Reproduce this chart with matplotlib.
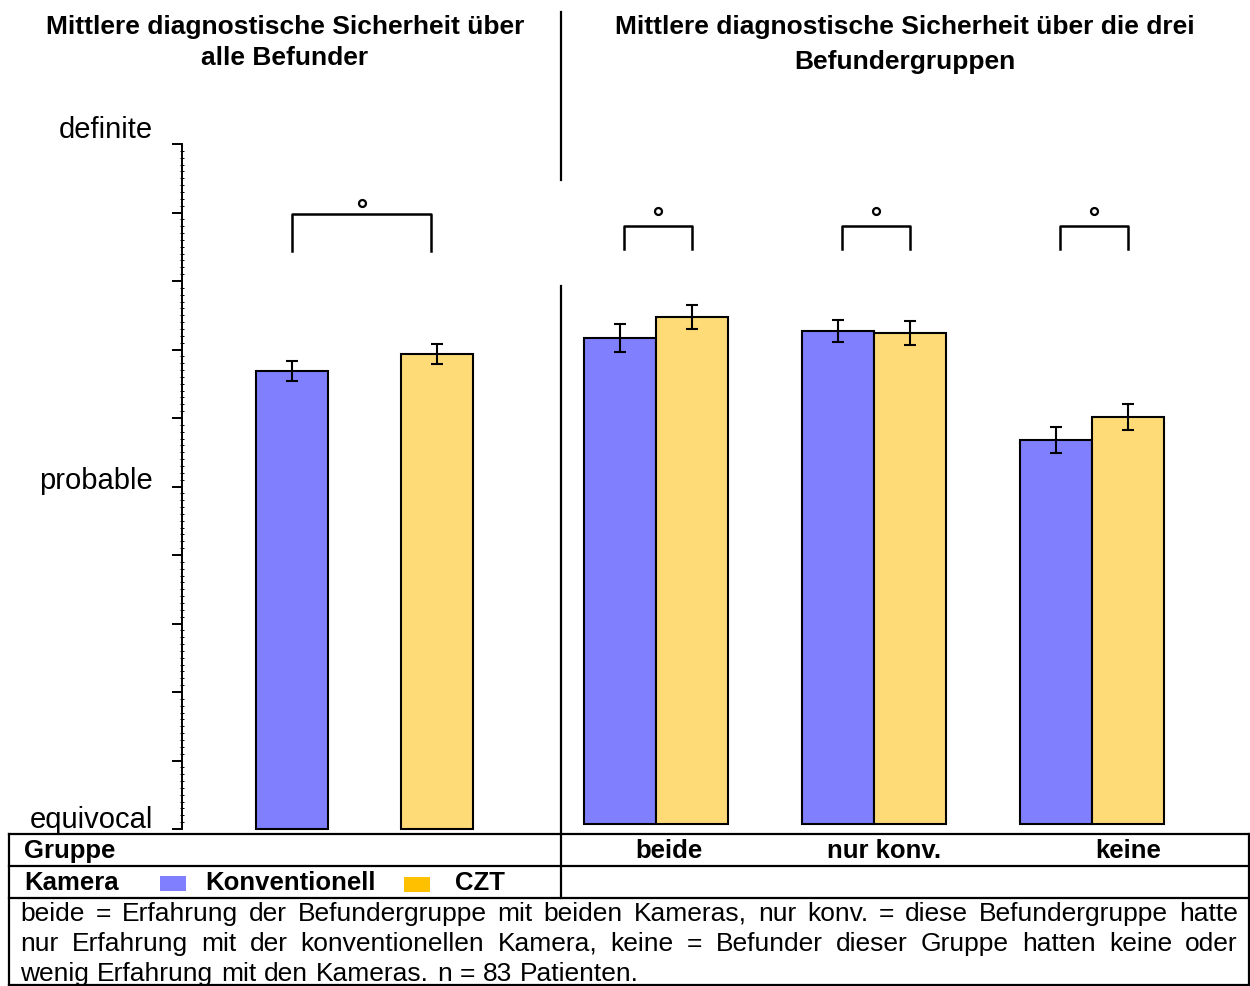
import numpy as np
import matplotlib
matplotlib.use("Agg")
import matplotlib.pyplot as plt
import matplotlib.transforms as mtransforms
from matplotlib.lines import Line2D
from matplotlib.patches import Rectangle

# scale: 1 = equivocal, 2 = probable, 3 = definite
scale_ticks = [1, 2, 3]
scale_labels = ["equivocal", "probable", "definite"]

cameras = ["Konventionell", "CZT"]
overall_means = [2.337, 2.387]
overall_err = [0.030, 0.028]

groups = ["beide", "nur konv.", "keine"]
konv_means = [2.419, 2.439, 2.121]
konv_err = [0.041, 0.032, 0.038]
czt_means = [2.480, 2.434, 2.188]
czt_err = [0.035, 0.035, 0.038]

footnote_lines = [
    "beide = Erfahrung der Befundergruppe mit beiden Kameras, nur konv. = diese Befundergruppe hatte",
    "nur Erfahrung mit der konventionellen Kamera, keine = Befunder dieser Gruppe hatten keine oder",
    "wenig Erfahrung mit den Kameras. n = 83 Patienten.",
]

blue = "#8080FF"
yellow = "#FFDB78"
legend_yellow = "#FFC000"

plt.rcParams["font.family"] = ["Liberation Sans", "DejaVu Sans"]

W, H = 1250, 987
fig = plt.figure(figsize=(W / 100, H / 100), dpi=100)


def fx(px):
    return px / W


def fy(py):
    return 1 - py / H


def hline(y, x0, x1, lw=1.6):
    fig.add_artist(Line2D([fx(x0), fx(x1)], [fy(y), fy(y)], color="black", lw=lw))


def vline(x, y0, y1, lw=1.6):
    fig.add_artist(Line2D([fx(x), fx(x)], [fy(y0), fy(y1)], color="black", lw=lw))


# ---- left panel: all readers ----
ax = fig.add_axes([fx(182), fy(830), fx(561) - fx(182), fy(145) - fy(830)])
pos = np.arange(len(cameras))
ax.bar(pos, np.array(overall_means) - 1, bottom=1, width=0.5,
       color=[blue, yellow], edgecolor="black", linewidth=1.5, clip_on=False)
ax.errorbar(pos, overall_means, yerr=overall_err, fmt="none", ecolor="black",
            elinewidth=1.5, capsize=4.5, capthick=1.5)
ax.set_xlim(-0.758, 1.855)
ax.set_ylim(1, 3)
ax.set_yticks(np.arange(1, 3.01, 0.2))
ax.set_yticks(np.arange(1, 3.001, 0.02), minor=True)
ax.set_yticklabels(["" for _ in np.arange(1, 3.01, 0.2)])
ax.tick_params(axis="y", which="major", direction="out", length=7, width=1.4)
ax.tick_params(axis="y", which="minor", direction="inout", length=3, width=0.7)
ax.set_xticks([])
for s in ["top", "right", "bottom"]:
    ax.spines[s].set_visible(False)
ax.spines["left"].set_linewidth(1.4)
label_shift = {"definite": 7, "probable": -1, "equivocal": 2}
for v, lab in zip(scale_ticks, scale_labels):
    tr = ax.get_yaxis_transform() + mtransforms.ScaledTranslation(
        0, label_shift[lab] / 100, fig.dpi_scale_trans)
    ax.text(-0.076, v, lab, transform=tr, ha="right", va="baseline", fontsize=21)

# significance bracket
b_top, b_low = 2.796, 2.688
ax.plot([pos[0], pos[0], pos[1] - 0.04, pos[1] - 0.04], [b_low, b_top, b_top, b_low],
        color="black", lw=1.8, clip_on=False)
ax.plot([(pos[0] + pos[1] - 0.04) / 2], [2.828], "o", ms=5, mfc="white",
        mec="black", mew=1.6, clip_on=False)

# ---- right panel: reader groups ----
ax2 = fig.add_axes([fx(561), fy(825), fx(1249) - fx(561), fy(140) - fy(825)])
gpos = np.arange(len(groups))
w = 0.33
ax2.bar(gpos - w / 2, np.array(konv_means) - 1, bottom=1, width=w, color=blue,
        edgecolor="black", linewidth=1.5, clip_on=False)
ax2.bar(gpos + w / 2, np.array(czt_means) - 1, bottom=1, width=w, color=yellow,
        edgecolor="black", linewidth=1.5, clip_on=False)
ax2.errorbar(gpos - w / 2, konv_means, yerr=konv_err, fmt="none", ecolor="black",
             elinewidth=1.5, capsize=4.5, capthick=1.5)
ax2.errorbar(gpos + w / 2, czt_means, yerr=czt_err, fmt="none", ecolor="black",
             elinewidth=1.5, capsize=4.5, capthick=1.5)
ax2.set_xlim(-0.436, 2.72)
ax2.set_ylim(1, 3)
ax2.axis("off")
for g in gpos:
    xl, xr = g - w / 2 + 0.02, g + w / 2
    ax2.plot([xl, xl, xr, xr], [2.679, 2.746, 2.746, 2.679], color="black", lw=1.8)
    ax2.plot([(xl + xr) / 2], [2.79], "o", ms=5, mfc="white", mec="black", mew=1.6)

# ---- titles and separators ----
title_kw = dict(ha="center", va="center", fontsize=19, fontweight="bold")
fig.text(fx(285), fy(27), "Mittlere diagnostische Sicherheit über", **title_kw)
fig.text(fx(285), fy(58), "alle Befunder", **title_kw)
fig.text(fx(905), fy(27), "Mittlere diagnostische Sicherheit über die drei", **title_kw)
fig.text(fx(905), fy(62), "Befundergruppen", **title_kw)
vline(561, 13, 181)
vline(561, 287, 835)

# ---- table below the plot ----
hline(835, 9, 1249)
hline(867, 9, 1249)
hline(899, 9, 1249)
hline(986, 9, 1249)
vline(9, 835, 987)
vline(1249, 835, 987)
vline(561, 835, 899)

fig.text(fx(24), fy(851), "Gruppe", ha="left", va="center", fontsize=18.5,
         fontweight="bold")
for x, lab in zip([669, 884, 1128], groups):
    fig.text(fx(x), fy(851), lab, ha="center", va="center", fontsize=18.5,
             fontweight="bold")
fig.text(fx(24), fy(883), "Kamera", ha="left", va="center", fontsize=18.5,
         fontweight="bold")
fig.add_artist(Rectangle((fx(160), fy(892)), fx(26), fy(877) - fy(892),
                         facecolor=blue, edgecolor="none"))
fig.add_artist(Rectangle((fx(404), fy(893)), fx(26), fy(878) - fy(893),
                         facecolor=legend_yellow, edgecolor="none"))
fig.text(fx(205), fy(883), cameras[0], ha="left", va="center", fontsize=18.5,
         fontweight="bold")
fig.text(fx(455), fy(883), cameras[1], ha="left", va="center", fontsize=18.5,
         fontweight="bold")

# justified footnote
renderer = fig.canvas.get_renderer()
x_left, x_right = 20, 1238
for i, line in enumerate(footnote_lines):
    y = fy(914 + 30 * i)
    words = line.split(" ")
    texts = [fig.text(0, y, wd, ha="left", va="center", fontsize=19) for wd in words]
    widths = [t.get_window_extent(renderer).width for t in texts]
    if i < len(footnote_lines) - 1:
        gap = (x_right - x_left - sum(widths)) / (len(words) - 1)
    else:
        gap = texts[0].get_fontsize() * 100 / 72 * 0.3
    x = x_left
    for t, wdt in zip(texts, widths):
        t.set_x(fx(x))
        x += wdt + gap

fig.savefig("out.png", dpi=100)
